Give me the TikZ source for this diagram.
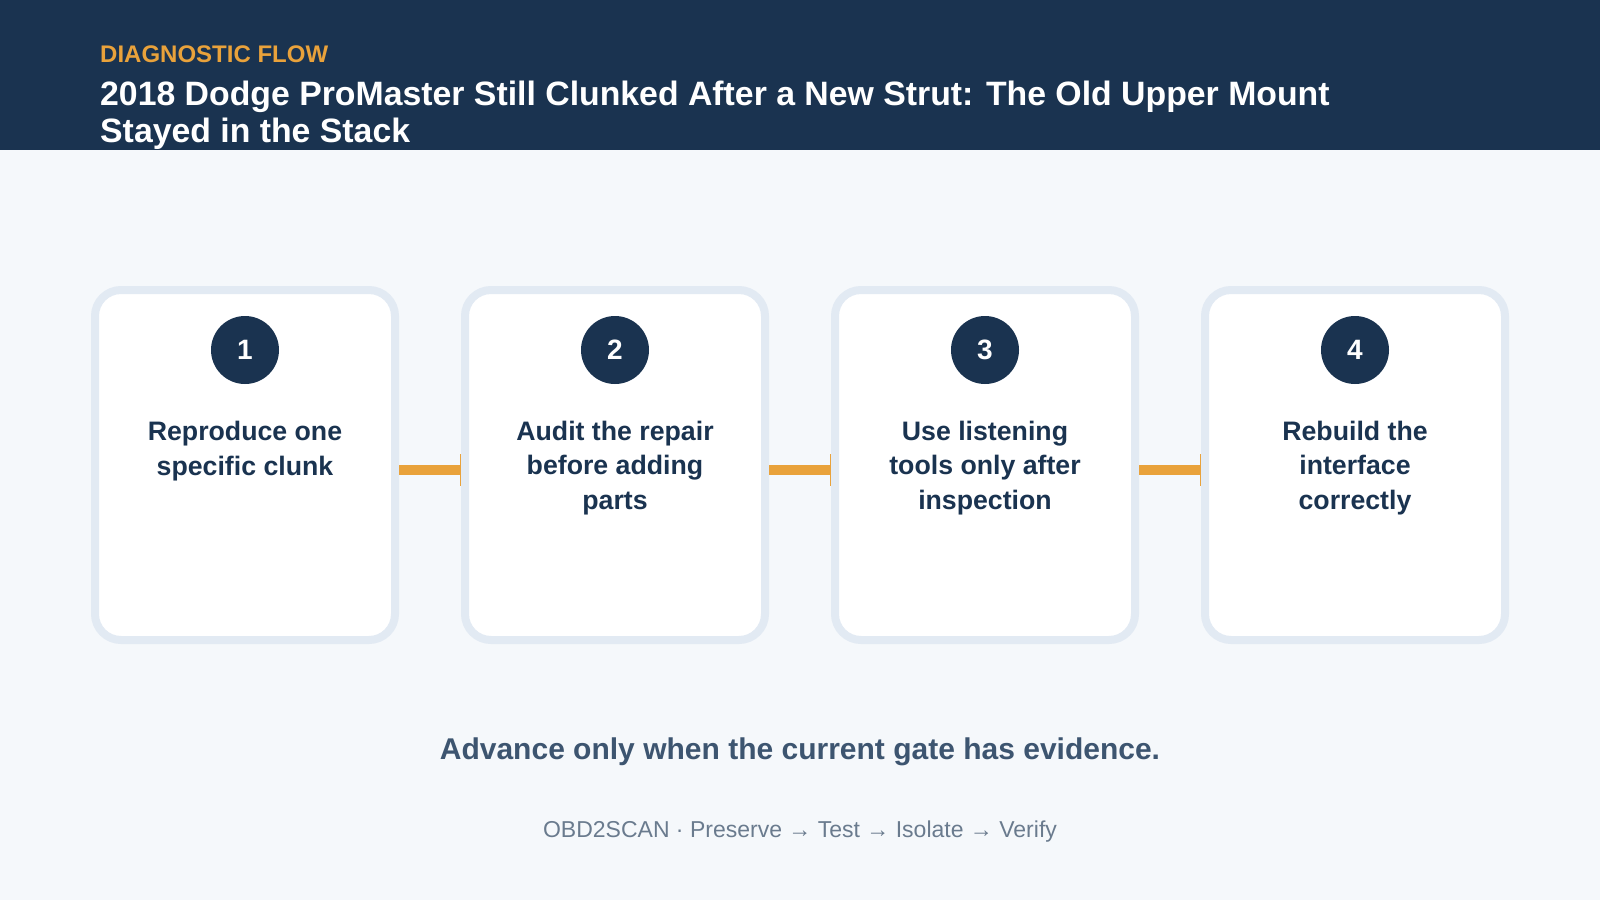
\documentclass[tikz,border=0pt]{standalone}
\usepackage{fontspec}
\setmainfont{Liberation Sans}
\usetikzlibrary{arrows.meta,positioning}

\definecolor{navy}{HTML}{1A3350}
\definecolor{pagebg}{HTML}{F5F8FB}
\definecolor{cardline}{HTML}{E2EAF3}
\definecolor{flow}{HTML}{E9A23B}
\definecolor{slate}{HTML}{3D5570}
\definecolor{muted}{HTML}{6A7B8E}

\tikzset{
  card/.style={draw=cardline, line width=8pt, fill=white, rounded corners=26pt,
    minimum width=300pt, minimum height=350pt},
  badge/.style={circle, fill=navy, minimum size=68pt, inner sep=0pt, text=white,
    font=\fontsize{28}{32}\selectfont\bfseries},
  steptext/.style={align=center, text=navy, anchor=base, inner sep=0pt,
    font=\fontsize{26.7}{34.6}\selectfont\bfseries},
  flowbar/.style={draw=flow, line width=10pt, -{Bar[width=32pt,line width'=1.5pt]}},
}

\begin{document}
\begin{tikzpicture}[x=1pt,y=-1pt]
\useasboundingbox (0,0) rectangle (1600,900);
\fill[pagebg] (0,0) rectangle (1600,900);
% header band
\fill[navy] (0,0) rectangle (1600,150);
\node[anchor=base west, inner sep=0pt, text=flow, font=\fontsize{24}{28}\selectfont\bfseries]
  (kicker) at (100,62) {DIAGNOSTIC FLOW};
% base of a two-line node = last line
\node[anchor=base west, inner sep=0pt, align=left, text=white, font=\fontsize{33.8}{37.5}\selectfont\bfseries]
  (title) at (100,142.5) {2018 Dodge ProMaster Still Clunked After a New Strut: The Old Upper Mount\\Stayed in the Stack};

% step 1
\node[card] (c1) at (245,465) {};
\node[badge] (n1) at (245,350) {1};
\node[steptext] (t1) at (245,475.3) {Reproduce one\\specific clunk};
% step 2
\node[card] (c2) at (615,465) {};
\node[badge] (n2) at (615,350) {2};
\node[steptext] (t2) at (615,509.3) {Audit the repair\\before adding\\parts};
% step 3
\node[card] (c3) at (985,465) {};
\node[badge] (n3) at (985,350) {3};
\node[steptext] (t3) at (985,509.3) {Use listening\\tools only after\\inspection};
% step 4
\node[card] (c4) at (1355,465) {};
\node[badge] (n4) at (1355,350) {4};
\node[steptext] (t4) at (1355,509.3) {Rebuild the\\interface\\correctly};

% connectors
\draw[flowbar] ([yshift=-5pt]c1.east) -- ([yshift=-5pt]c2.west);
\draw[flowbar] ([yshift=-5pt]c2.east) -- ([yshift=-5pt]c3.west);
\draw[flowbar] ([yshift=-5pt]c3.east) -- ([yshift=-5pt]c4.west);

% footer
\node[anchor=base, inner sep=0pt, text=slate, font=\fontsize{30}{34}\selectfont\bfseries]
  (rule) at (800,759.5) {Advance only when the current gate has evidence.};
\node[anchor=base, inner sep=0pt, text=muted, font=\fontsize{23}{27}\selectfont]
  (brand) at (800,837.7) {OBD2SCAN · Preserve → Test → Isolate → Verify};
\end{tikzpicture}
\end{document}
